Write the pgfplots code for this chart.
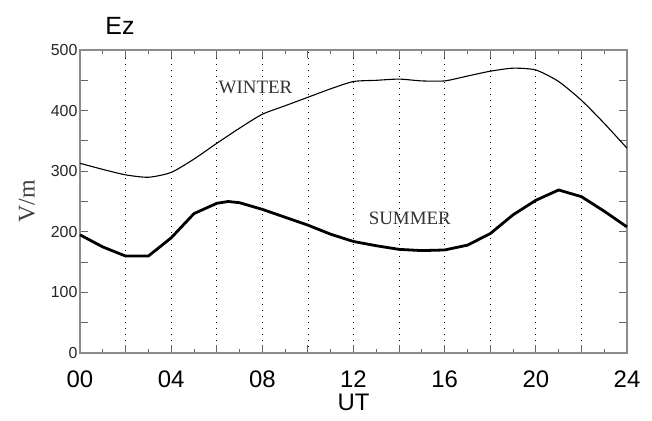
\documentclass[border=0pt]{standalone}
\usepackage{pgfplots}
\pgfplotsset{compat=1.18}
\usepackage{fontspec}
\setmainfont{Liberation Serif}
\newfontfamily\helv{Liberation Sans}
\begin{document}
\begin{tikzpicture}
\useasboundingbox (-80bp,-68bp) rectangle (572bp,353bp);
\begin{axis}[
  scale only axis,
  width=547bp, height=303bp,
  at={(0,0)}, anchor=south west,
  xmin=0, xmax=24, ymin=0, ymax=500,
  axis line style={black!45, line width=1.6bp},
  xtick={0,2,...,24},
  xticklabels={00,,04,,08,,12,,16,,20,,24},
  minor xtick={1,3,...,23},
  ytick={0,50,...,500},
  yticklabels={0,,100,,200,,300,,400,,500},
  tick align=inside,
  major tick length=8bp,
  minor tick length=4bp,
  tick style={black!60, line width=0.9bp},
  xmajorgrids,
  major x grid style={black, line width=0.7bp, dash pattern=on 1.4bp off 4.6bp},
  xticklabel style={font=\helv\fontsize{24}{24}\selectfont, yshift=-14bp},
  yticklabel style={font=\helv\fontsize{16}{16}\selectfont, black!85, xshift=1bp},
  /pgf/number format/assume math mode=true,
  xlabel={UT},
  xlabel style={font=\helv\fontsize{24}{24}\selectfont, yshift=0bp},
  ylabel={V/m},
  ylabel style={font=\fontsize{24}{24}\selectfont, black!75, yshift=9bp},
  clip=false,
]
\addplot[black, line width=1.1bp, smooth, tension=0.4] coordinates {
(0,313)(1,303)(2,294)(3,290)(4,298)(5,320)(6,346)(7,371)(8,394)(9,408)(10,422)(11,436)
(12,448)(13,450)(14,452)(15,449)(16,449)(17,457)(18,465)(19,470)(20,467)(21,448)(22,417)(23,379)(24,338)
};
\addplot[black, line width=2.8bp] coordinates {
(0,195)(1,175)(2,160)(3,160)(4,190)(5,230)(6,247)(6.5,250)(7,248)(8,237)(9,224)(10,211)(11,196)
(12,184)(13,177)(14,171)(15,169)(16,170)(17,178)(18,197)(19,228)(20,252)(21,269)(22,258)(23,234)(24,208)
};
\node[font=\fontsize{19}{19}\selectfont, black!80] at (axis cs:7.7,439) {WINTER};
\node[font=\fontsize{19}{19}\selectfont, black!80] at (axis cs:14.47,223) {SUMMER};
\node[font=\helv\fontsize{25}{25}\selectfont] at (rel axis cs:0.073,1.079) {Ez};
\end{axis}
\end{tikzpicture}
\end{document}
